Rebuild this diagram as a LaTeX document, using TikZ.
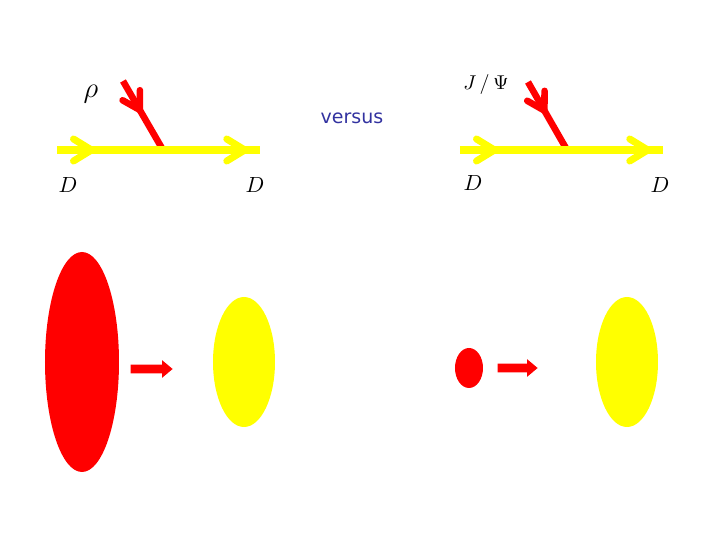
\documentclass[tikz,border=0pt]{standalone}
\usepackage{fontspec}
\newfontfamily\versusfont{DejaVu Sans}
\usetikzlibrary{decorations.markings,shapes.geometric,shapes.arrows}
\definecolor{versusblue}{RGB}{50,50,160}
\definecolor{dyellow}{RGB}{255,255,0}
\definecolor{dred}{RGB}{255,0,0}
\tikzset{
  quark/.style={dyellow,line width=4pt,postaction={decorate},
    decoration={markings,
      mark=at position 0.17 with {\draw[line width=3.5pt,line cap=round,line join=round] (-9pt,-5.5pt) -- (0pt,0pt) -- (-9pt,5.5pt);},
      mark=at position 0.925 with {\draw[line width=3.5pt,line cap=round,line join=round] (-9pt,-5.5pt) -- (0pt,0pt) -- (-9pt,5.5pt);}}},
  meson/.style={dred,line width=3.3pt,postaction={decorate},
    decoration={markings,
      mark=at position 0.42 with {\draw[line width=3.3pt,line cap=round,line join=round] (-8.5pt,-5pt) -- (0pt,0pt) -- (-8.5pt,5pt);}}},
  blob/.style={ellipse,inner sep=0pt,fill=#1},
  push/.style={single arrow,fill=dred,inner sep=2pt,minimum height=21pt,
    minimum width=8.5pt,single arrow head extend=2.25pt,single arrow tip angle=80},
  lbl/.style={inner sep=0pt,font=\fontsize{11}{13}\selectfont}
}
\begin{document}
\begin{tikzpicture}[x=0.5pt,y=-0.5pt]
\useasboundingbox (0,0) rectangle (720,540);

% rho exchange
\coordinate (vL) at (163,150);
\coordinate (qLin) at (57,150);
\coordinate (qLout) at (260,150);
\coordinate (mL) at (123,81);
\draw[meson] (mL) -- (vL);
\draw[quark] (qLin) -- (qLout);
\node[lbl,font=\fontsize{14}{16}\selectfont] (rho) at (91,94) {$\rho$};
\node[lbl] (dLin) at (68,185) {$D$};
\node[lbl] (dLout) at (255,185) {$D$};

\node[inner sep=0pt,text=versusblue,font=\versusfont\fontsize{9.5}{11}\selectfont] (versus) at (352,118) {versus};

% J/Psi exchange
\coordinate (vR) at (567,150);
\coordinate (qRin) at (460,150);
\coordinate (qRout) at (663,150);
\coordinate (mR) at (528,82);
\draw[meson] (mR) -- (vR);
\draw[quark] (qRin) -- (qRout);
\node[lbl,font=\fontsize{10}{12}\selectfont] (jpsi) at (486,85) {$J\,/\,\Psi$};
\node[lbl] (dRin) at (473,183) {$D$};
\node[lbl] (dRout) at (660,185) {$D$};

% sizes
\node[blob=dred,minimum width=37pt,minimum height=110pt] (bigRed) at (82,362) {};
\node[push] (pushL) at (149,369) {};
\node[blob=dyellow,minimum width=31pt,minimum height=65pt] (yelL) at (244,362) {};

\node[blob=dred,minimum width=14pt,minimum height=20pt] (smallRed) at (469,368) {};
\node[push,minimum height=20pt] (pushR) at (515,368) {};
\node[blob=dyellow,minimum width=31pt,minimum height=65pt] (yelR) at (627,362) {};
\end{tikzpicture}
\end{document}
